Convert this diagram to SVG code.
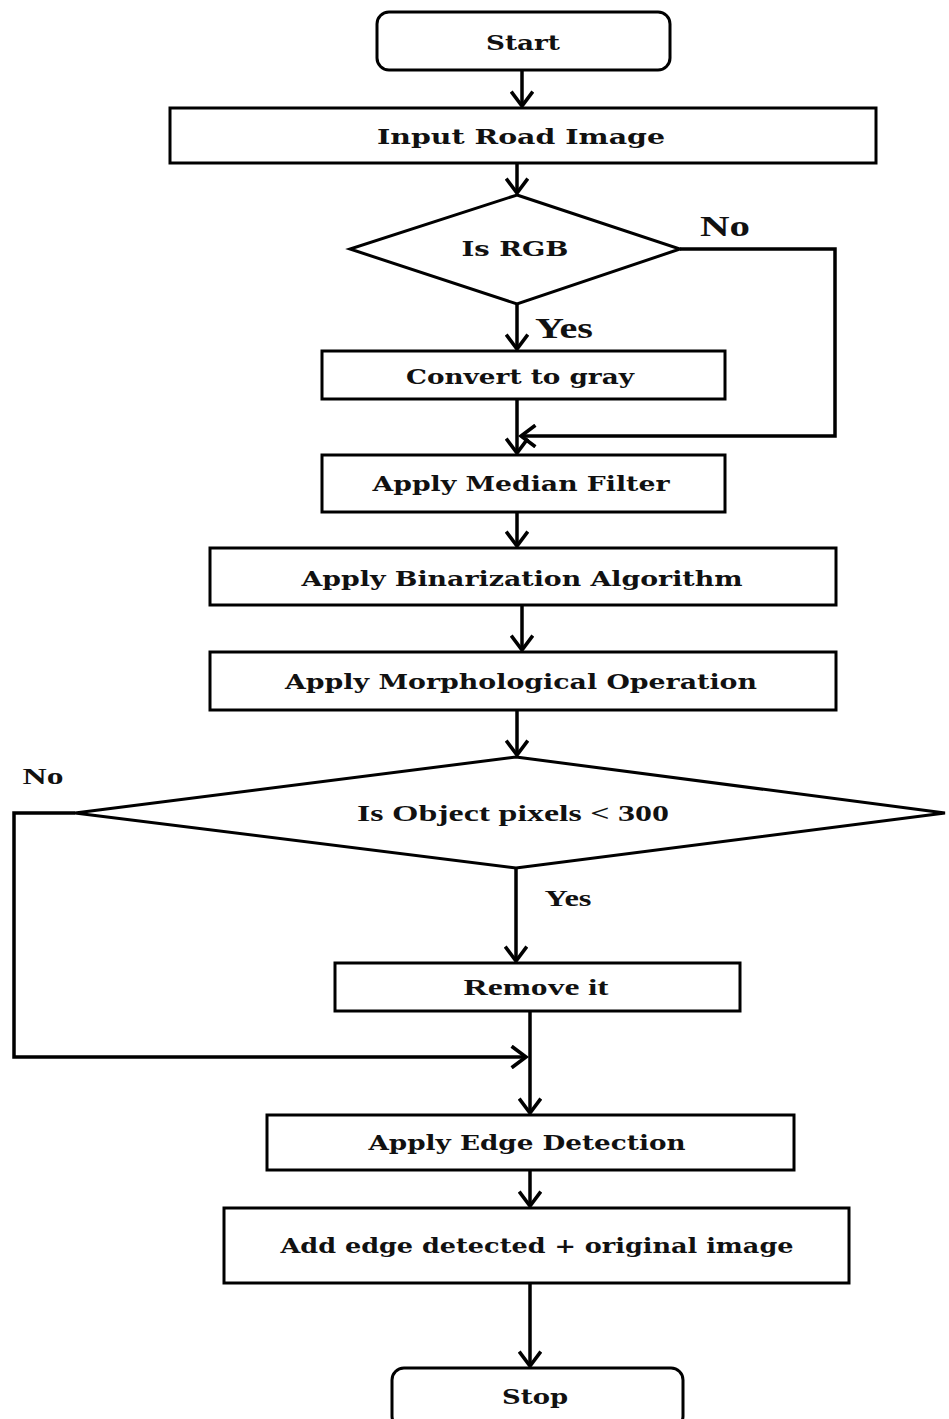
<svg xmlns="http://www.w3.org/2000/svg" width="949" height="1419" viewBox="0 0 949 1419">
<defs>
<marker id="arr" markerUnits="userSpaceOnUse" markerWidth="24" markerHeight="24" viewBox="-14 -10 16 20" refX="0" refY="0" orient="auto">
<path d="M-12,-9 L0,0 L-12,9" fill="none" stroke="#000" stroke-width="3"/>
</marker>
</defs>
<style>
.box{fill:#fff;stroke:#000;stroke-width:3}
.t{font-family:"DejaVu Serif","Liberation Serif",serif;font-weight:bold;font-size:21px;fill:#111;text-anchor:middle}
.tt{font-family:"Liberation Serif",serif;font-weight:bold;font-size:23px;fill:#111;text-anchor:middle}
.big{font-size:29px}
.c{fill:none;stroke:#000;stroke-width:3.5}
</style>
<rect width="949" height="1419" fill="#fff"/>
<g id="connectors">
<line class="c" x1="522" y1="70" x2="522" y2="106" marker-end="url(#arr)"/>
<line class="c" x1="517" y1="163" x2="517" y2="193" marker-end="url(#arr)"/>
<line class="c" x1="517" y1="304" x2="517" y2="349" marker-end="url(#arr)"/>
<polyline class="c" points="680,249 835,249 835,436 521,436" marker-end="url(#arr)"/>
<line class="c" x1="517" y1="399" x2="517" y2="453" marker-end="url(#arr)"/>
<line class="c" x1="517" y1="512" x2="517" y2="546" marker-end="url(#arr)"/>
<line class="c" x1="522" y1="605" x2="522" y2="650" marker-end="url(#arr)"/>
<line class="c" x1="517" y1="710" x2="517" y2="755" marker-end="url(#arr)"/>
<line class="c" x1="516" y1="868" x2="516" y2="961" marker-end="url(#arr)"/>
<polyline class="c" points="75,813 14,813 14,1057 526,1057" marker-end="url(#arr)"/>
<line class="c" x1="530" y1="1011" x2="530" y2="1113" marker-end="url(#arr)"/>
<line class="c" x1="530" y1="1170" x2="530" y2="1206" marker-end="url(#arr)"/>
<line class="c" x1="530" y1="1283" x2="530" y2="1366" marker-end="url(#arr)"/>
<text class="tt big" x="725" y="236" textLength="50" lengthAdjust="spacingAndGlyphs">No</text>
<text class="tt big" x="564" y="338" textLength="58" lengthAdjust="spacingAndGlyphs">Yes</text>
<text class="tt" x="43" y="784" textLength="41" lengthAdjust="spacingAndGlyphs">No</text>
<text class="tt" x="568" y="906" textLength="47" lengthAdjust="spacingAndGlyphs">Yes</text>
</g>
<g id="start">
<rect class="box" x="377" y="12" width="293" height="58" rx="12"/>
<text class="t" x="523" y="50" textLength="74" lengthAdjust="spacingAndGlyphs">Start</text>
</g>
<g id="input">
<rect class="box" x="170" y="108" width="706" height="55"/>
<text class="t" x="521" y="144" textLength="288" lengthAdjust="spacingAndGlyphs">Input  Road  Image</text>
</g>
<g id="isrgb">
<polygon class="box" points="517,195 680,249 517,304 350,249"/>
<text class="t" x="515" y="256" textLength="107" lengthAdjust="spacingAndGlyphs">Is RGB</text>
</g>
<g id="gray">
<rect class="box" x="322" y="351" width="403" height="48"/>
<text class="t" x="520" y="384" textLength="228" lengthAdjust="spacingAndGlyphs">Convert to gray</text>
</g>
<g id="median">
<rect class="box" x="322" y="455" width="403" height="57"/>
<text class="t" x="521" y="491" textLength="297" lengthAdjust="spacingAndGlyphs">Apply Median Filter</text>
</g>
<g id="binarization">
<rect class="box" x="210" y="548" width="626" height="57"/>
<text class="t" x="522" y="586" textLength="441" lengthAdjust="spacingAndGlyphs">Apply Binarization Algorithm</text>
</g>
<g id="morph">
<rect class="box" x="210" y="652" width="626" height="58"/>
<text class="t" x="521" y="689" textLength="472" lengthAdjust="spacingAndGlyphs">Apply Morphological Operation</text>
</g>
<g id="isobject">
<polygon class="box" points="516,757 945,813 516,868 75,813"/>
<text class="tt" x="513" y="821" textLength="312" lengthAdjust="spacingAndGlyphs">Is Object pixels &lt; 300</text>
</g>
<g id="remove">
<rect class="box" x="335" y="963" width="405" height="48"/>
<text class="tt" x="536" y="995" textLength="145" lengthAdjust="spacingAndGlyphs">Remove it</text>
</g>
<g id="edge">
<rect class="box" x="267" y="1115" width="527" height="55"/>
<text class="t" x="527" y="1150" textLength="317" lengthAdjust="spacingAndGlyphs">Apply Edge Detection</text>
</g>
<g id="add">
<rect class="box" x="224" y="1208" width="625" height="75"/>
<text class="t" x="537" y="1253" textLength="513" lengthAdjust="spacingAndGlyphs">Add edge detected + original image</text>
</g>
<g id="stop">
<rect class="box" x="392" y="1368" width="291" height="60" rx="12"/>
<text class="t" x="535" y="1404" textLength="66" lengthAdjust="spacingAndGlyphs">Stop</text>
</g>
</svg>
